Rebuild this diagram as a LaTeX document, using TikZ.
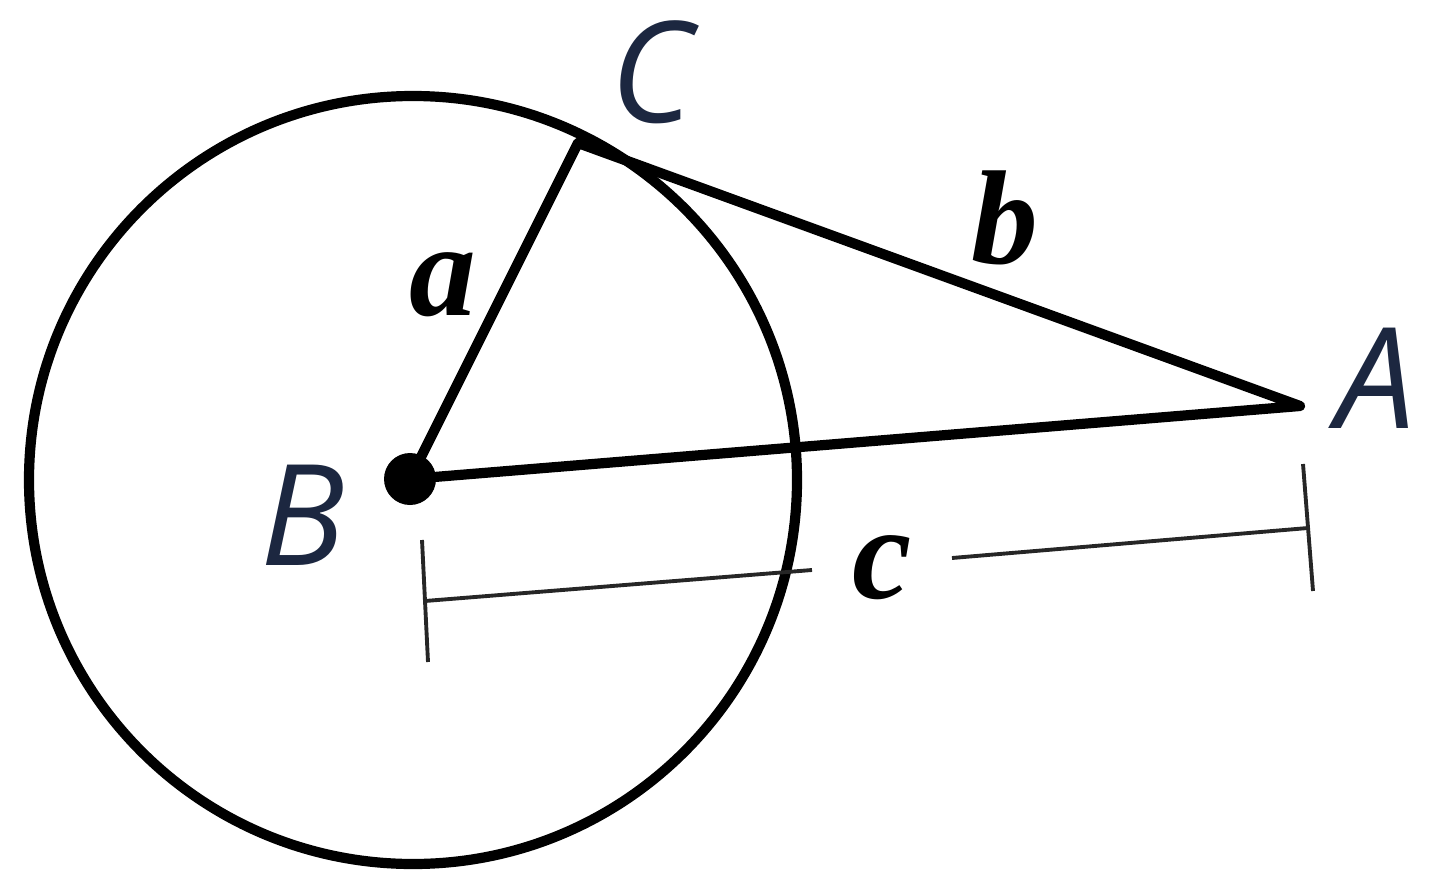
\documentclass[tikz,border=0pt]{standalone}
\usepackage{fontspec}
\setmainfont{Liberation Serif}
\newfontfamily\ptfont{Open Sans}
\definecolor{ptcol}{HTML}{1C2740}
\begin{document}
\begin{tikzpicture}[x=0.01cm,y=-0.01cm,
  geo/.style={line width=2.9pt,line join=round,line cap=round},
  dimline/.style={line width=1.1pt,black!85},
  ptlabel/.style={text=ptcol,font=\fontsize{40}{42}\selectfont\ptfont\itshape,inner sep=0pt},
  seglabel/.style={font=\fontsize{38}{40}\selectfont\bfseries\itshape,inner sep=0pt}]
\useasboundingbox (0,0) rectangle (1440,891);
\coordinate (B) at (410,479);
\coordinate (C) at (578,143);
\coordinate (A) at (1300,406);
\draw[geo] (413,480) circle[radius=384];
\draw[geo] (B) -- (C) -- (A) -- cycle;
\fill (B) circle[radius=26];
% dimension line
\coordinate (L) at (425,601);
\coordinate (R) at (1308,528);
\coordinate (Lt) at (422,540);
\coordinate (Lb) at (428,662);
\coordinate (Rt) at (1303,464);
\coordinate (Rb) at (1313,591);
\coordinate (G1) at (812,570);
\coordinate (G2) at (952,558);
\draw[dimline] (L) -- (G1);
\draw[dimline] (G2) -- (R);
\draw[dimline] (Lt) -- (Lb);
\draw[dimline] (Rt) -- (Rb);
% labels
\node[ptlabel] (lC) at (652,72) {C};
\node[ptlabel] (lB) at (303,515) {B};
\node[ptlabel] (lA) at (1376,378) {A};
\node[seglabel] (la) at (443,285) {a};
\node[seglabel] (lb) at (1005,218) {b};
\node[seglabel] (lc) at (882,568) {c};
\end{tikzpicture}
\end{document}
